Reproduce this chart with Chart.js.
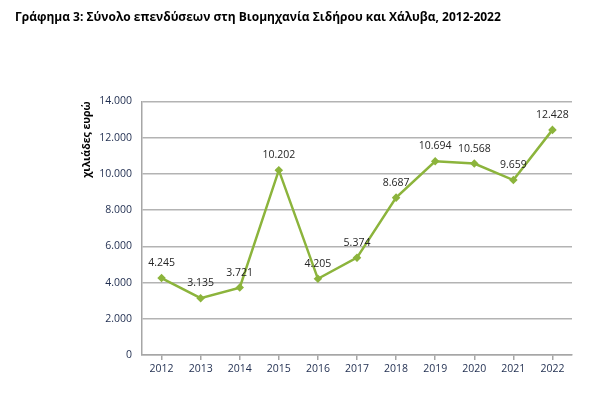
<!DOCTYPE html>
<html lang="el">
<head>
<meta charset="UTF-8">
<title>Γράφημα 3</title>
<script src="https://cdn.jsdelivr.net/npm/chart.js@4.4.0/dist/chart.umd.min.js"></script>
<style>
  html, body { margin: 0; padding: 0; background: #fff; }
  #wrap { width: 600px; height: 394px; }
</style>
</head>
<body>
<div id="wrap"><canvas id="chart" width="600" height="394"></canvas></div>
<script>
const years = ['2012','2013','2014','2015','2016','2017','2018','2019','2020','2021','2022'];
const investments = [4245, 3135, 3721, 10202, 4205, 5374, 8687, 10694, 10568, 9659, 12428];
const yTicks = [0, 2000, 4000, 6000, 8000, 10000, 12000, 14000];

const fontFam = "'Open Sans', 'DejaVu Sans', sans-serif";

// 12428 -> "12.428"
function fmt(v) {
    return String(v).replace(/\B(?=(\d{3})+(?!\d))/g, '.');
}

// values written above each point
const valueLabels = {
    id: 'valueLabels',
    afterDatasetsDraw(chart) {
        const ctx = chart.ctx;
        const meta = chart.getDatasetMeta(0);
        ctx.save();
        ctx.font = '10.5px ' + fontFam;
        ctx.fillStyle = '#262626';
        ctx.textAlign = 'center';
        ctx.textBaseline = 'middle';
        meta.data.forEach((pt, i) => {
            ctx.fillText(fmt(investments[i]), pt.x, pt.y - 15);
        });
        ctx.restore();
    }
};

const ctx = document.getElementById('chart').getContext('2d');
new Chart(ctx, {
    type: 'line',
    data: {
        labels: years,
        datasets: [{
            data: investments,
            borderColor: '#8cb43c',
            backgroundColor: '#8cb43c',
            borderWidth: 2.5,
            pointStyle: 'rectRot',
            pointRadius: 2.5,
            tension: 0
        }]
    },
    options: {
        responsive: false,
        animation: false,
        layout: { padding: { left: 15, right: 28, top: 0, bottom: 0 } },
        plugins: {
            legend: { display: false },
            tooltip: { enabled: false },
            title: {
                display: true,
                text: 'Γράφημα 3: Σύνολο επενδύσεων στη Βιομηχανία Σιδήρου και Χάλυβα, 2012-2022',
                align: 'start',
                color: '#000',
                font: { family: fontFam, size: 12, weight: 'bold' },
                padding: { top: 10, bottom: 77 }
            }
        },
        scales: {
            x: {
                offset: true,
                grid: {
                    display: true,
                    drawOnChartArea: false,
                    offset: false,
                    color: '#a6a6a6',
                    lineWidth: 1.5,
                    tickLength: 5
                },
                border: { color: '#a6a6a6', width: 1.5 },
                ticks: {
                    color: '#1f2d4f',
                    padding: 3,
                    font: { family: fontFam, size: 10.5 }
                },
                afterFit(scale) { scale.height = 39; }
            },
            y: {
                min: 0,
                max: 14000,
                afterBuildTicks(scale) {
                    scale.ticks = yTicks.map(v => ({ value: v }));
                },
                grid: {
                    color: '#b3b3b3',
                    lineWidth: 1.5,
                    drawTicks: false
                },
                border: { color: '#a6a6a6', width: 1.5 },
                ticks: {
                    color: '#1f2d4f',
                    padding: 10,
                    font: { family: fontFam, size: 10.5 },
                    callback: v => fmt(v)
                },
                title: {
                    display: true,
                    text: 'χιλιάδες ευρώ',
                    align: 'end',
                    color: '#000',
                    font: { family: fontFam, size: 10.5, weight: 'bold' },
                    padding: { top: 66, bottom: 0 }
                },
                afterFit(scale) { scale.width = 127; }
            }
        }
    },
    plugins: [valueLabels]
});
</script>
</body>
</html>
